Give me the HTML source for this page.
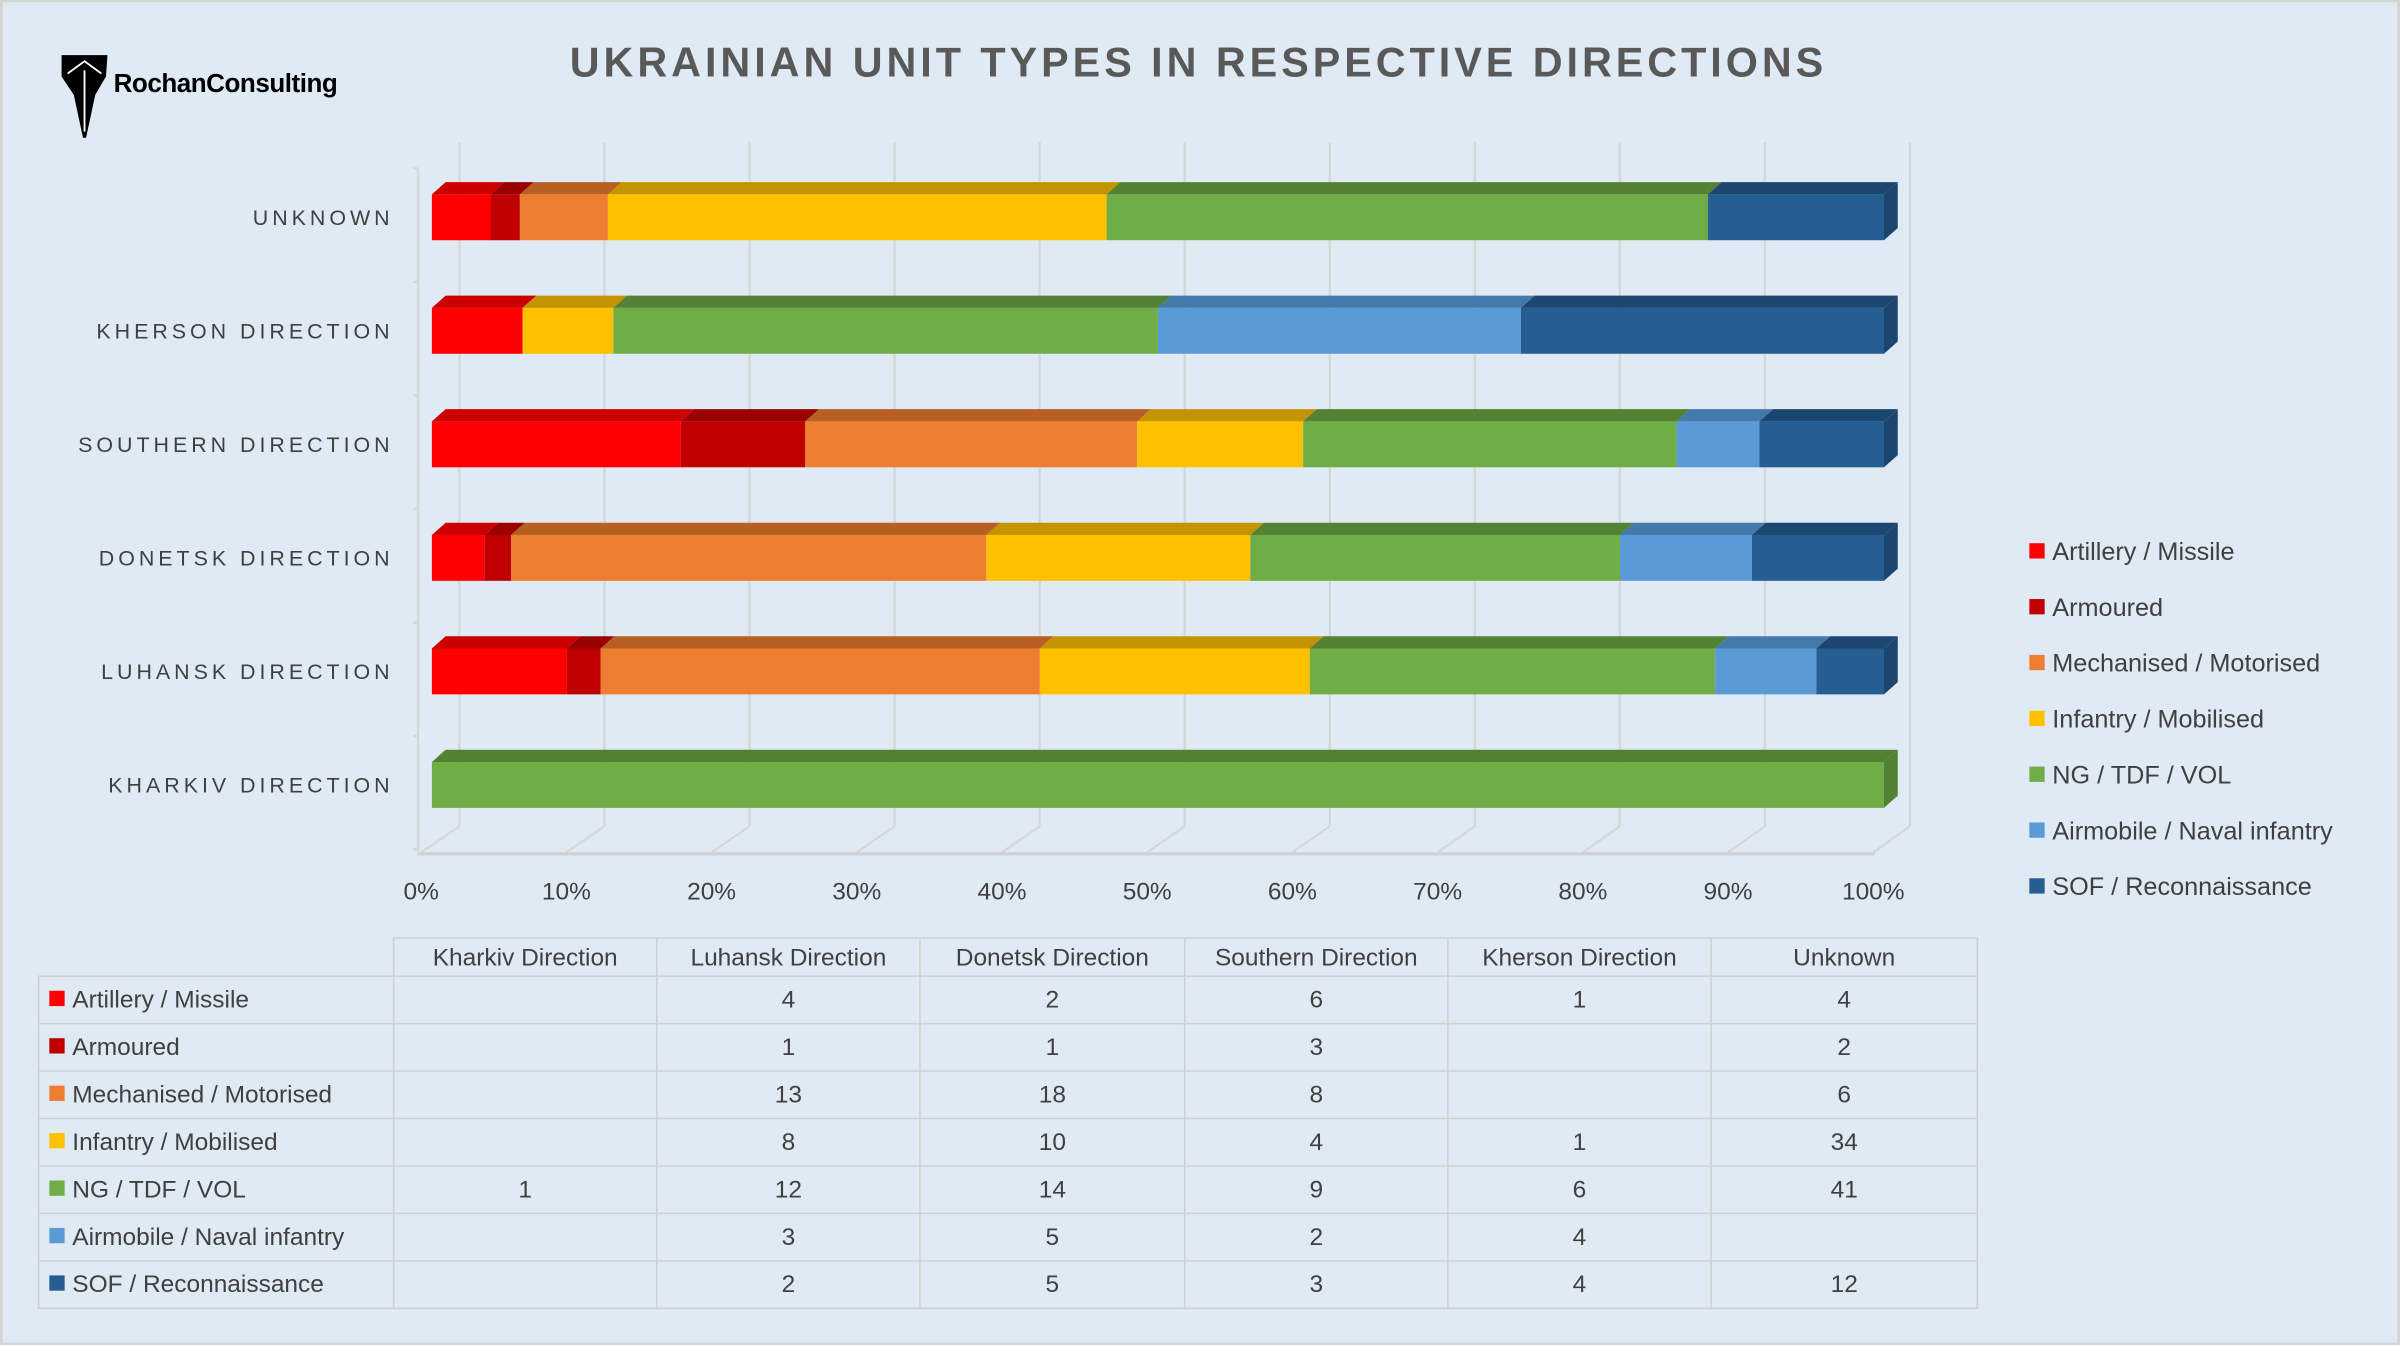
<!DOCTYPE html>
<html><head><meta charset="utf-8">
<style>
html,body{margin:0;padding:0;background:#dfeaf5;}
svg{display:block;}
text{font-family:"Liberation Sans",sans-serif;fill:#404040;}
</style></head>
<body>
<svg id="chart" xmlns="http://www.w3.org/2000/svg" width="2400" height="1345" viewBox="0 0 1568 879">
<rect x="0" y="0" width="1568" height="879" fill="#dfeaf5" stroke="#d4d4d4" stroke-width="3"/>
<g>
<path d="M40,36 L70,36 L69,50 L62,62 L56,90 L54,90 L48,62 L40,50 Z" fill="#000"/>
<path d="M44,48 L55,40 L66,48 M55,46 L55,86" stroke="#fff" stroke-width="1.2" fill="none"/>
<text x="74" y="60" font-size="17" font-weight="bold" letter-spacing="-0.3" style="fill:#000">RochanConsulting</text>
</g>
<text x="783" y="50" text-anchor="middle" font-size="27" font-weight="bold" letter-spacing="2.6" style="fill:#595959">UKRAINIAN UNIT TYPES IN RESPECTIVE DIRECTIONS</text>
<g id="grid"></g>
<g id="bars"></g>
<g id="cats"></g>
<g id="xticks"></g>
<g id="legend"></g>
<g id="table"></g>
</svg>
<script>
const categories = ["Kharkiv Direction","Luhansk Direction","Donetsk Direction","Southern Direction","Kherson Direction","Unknown"];
const seriesNames = ["Artillery / Missile","Armoured","Mechanised / Motorised","Infantry / Mobilised","NG / TDF / VOL","Airmobile / Naval infantry","SOF / Reconnaissance"];
const artillery = [0,4,2,6,1,4];
const armoured = [0,1,1,3,0,2];
const mechanised = [0,13,18,8,0,6];
const infantry = [0,8,10,4,1,34];
const ngTdf = [1,12,14,9,6,41];
const airmobile = [0,3,5,2,4,0];
const sof = [0,2,5,3,4,12];
const xTickLabels = ["0%","10%","20%","30%","40%","50%","60%","70%","80%","90%","100%"];
const series = [artillery,armoured,mechanised,infantry,ngTdf,airmobile,sof];
const colors = ["#ff0000","#c00000","#ed7d31","#ffc000","#70ad47","#5b9bd5","#255e91"];
const tops = ["#cc0000","#9a0000","#b85f24","#c49300","#548235","#4379ab","#1b4670"];
const NS = "http://www.w3.org/2000/svg";
function mk(tag, attrs, parent){const e=document.createElementNS(NS,tag);for(const k in attrs)e.setAttribute(k,attrs[k]);parent.appendChild(e);return e;}
const X0=282, X1=1231;
function xScale(f){return X0+f*(X1-X0);}
function yCenter(i){return 513-i*74.2;}
const DX=9, DY=8, BH=30;
const grid=document.getElementById('grid');
for(let i=0;i<=10;i++){
  const bx=300+i*94.8, fx=275+i*94.9;
  let l=mk('line',{x1:bx,y1:93,x2:bx,y2:540,stroke:'#d6d6d6','stroke-width':1.5},grid);
   
  let d=mk('line',{x1:fx,y1:557,x2:bx,y2:540,stroke:'#d6d6d6','stroke-width':1.5},grid);
   
}
mk('line',{x1:273,y1:558,x2:1225,y2:558,stroke:'#d0d0d0','stroke-width':2},grid);
mk('line',{x1:273,y1:110,x2:273,y2:558,stroke:'#d6d6d6','stroke-width':1.5},grid);
for(let i=0;i<=6;i++){mk('line',{x1:270,y1:110+i*74.2,x2:273,y2:110+i*74.2,stroke:'#d6d6d6','stroke-width':1.5},grid);}
const bars=document.getElementById('bars');
categories.forEach((c,ci)=>{
  const total=series.reduce((a,s)=>a+s[ci],0);
  let acc=0; const yc=yCenter(ci), yt=yc-BH/2;
  let last=-1;
  series.forEach((s,si)=>{
    const v=s[ci]; if(!v) return;
    const xa=xScale(acc/total), xb=xScale((acc+v)/total); acc+=v; last=si;
    const top=mk('polygon',{points:`${xa},${yt} ${xa+DX},${yt-DY} ${xb+DX},${yt-DY} ${xb},${yt}`,fill:tops[si]},bars);
     
    const r=mk('rect',{x:xa,y:yt,width:xb-xa,height:BH,fill:colors[si]},bars);
     
  });
  if(last>=0){
    const side=mk('polygon',{points:`${X1},${yt} ${X1+DX},${yt-DY} ${X1+DX},${yt+BH-DY} ${X1},${yt+BH}`,fill:tops[last]},bars);
     
  }
  const t=mk('text',{x:257,y:yc+5,'text-anchor':'end','font-size':14,'letter-spacing':2.6},document.getElementById('cats'));
  t.textContent=c.toUpperCase();
   
});
xTickLabels.forEach((lab,i)=>{
  const t=mk('text',{x:275+i*94.9,y:588,'text-anchor':'middle','font-size':16},document.getElementById('xticks'));
  t.textContent=lab;
   
});
const leg=document.getElementById('legend');
seriesNames.forEach((n,i)=>{
  const y=360+i*36.5;
  const r=mk('rect',{x:1326,y:y-5,width:10,height:10,fill:colors[i]},leg);
   
  const t=mk('text',{x:1341,y:y+6,'font-size':16.5},leg);
  t.textContent=n;
   
});
const tb=document.getElementById('table');
const colX=[25,257,429,601,774,946,1118,1292];
const rowY=[613,638,669,700,731,762,793,824,855];
mk('rect',{x:257,y:613,width:1035,height:25,fill:'none',stroke:'#d0d0d0'},tb);
mk('rect',{x:25,y:638,width:1267,height:217,fill:'none',stroke:'#d0d0d0'},tb);
for(let i=1;i<colX.length-1;i++) mk('line',{x1:colX[i],y1:613,x2:colX[i],y2:855,stroke:'#d0d0d0'},tb);
for(let j=2;j<rowY.length-1;j++) mk('line',{x1:25,y1:rowY[j],x2:1292,y2:rowY[j],stroke:'#d0d0d0'},tb);
categories.forEach((c,ci)=>{
  const t=mk('text',{x:(colX[ci+1]+colX[ci+2])/2,y:631,'text-anchor':'middle','font-size':16},tb);
  t.textContent=c;
   
});
seriesNames.forEach((n,si)=>{
  const yc=(rowY[si+1]+rowY[si+2])/2;
  const r=mk('rect',{x:32,y:yc-6,width:10,height:10,fill:colors[si]},tb);
   
  const t=mk('text',{x:47,y:yc+5,'font-size':16},tb);
  t.textContent=n;
   
  series[si].forEach((v,ci)=>{
    if(!v) return;
    const c=mk('text',{x:(colX[ci+1]+colX[ci+2])/2,y:yc+5,'text-anchor':'middle','font-size':16},tb);
    c.textContent=v;
     
  });
});
</script>
</body></html>
